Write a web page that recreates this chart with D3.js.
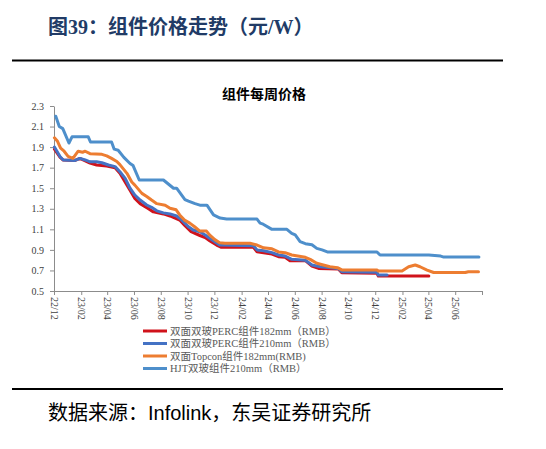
<!DOCTYPE html>
<html>
<head>
<meta charset="utf-8">
<script src="https://cdn.jsdelivr.net/npm/d3@7"></script>
<style>
  body { margin: 0; background: #fff; }
  svg { display: block; }
  .tick text { font-family: "Liberation Serif", "Times New Roman", serif; font-size: 10px; fill: #404040; }
  .axis path, .axis line { stroke: #8c8c8c; }
</style>
</head>
<body>
<svg></svg>
<script>
// series names (legend order)
const seriesNames = [
  "双面双玻PERC组件182mm（RMB）",
  "双面双玻PERC组件210mm（RMB）",
  "双面Topcon组件182mm(RMB)",
  "HJT双玻组件210mm（RMB）"
];
const seriesColors = ["#d0121b", "#4472c4", "#ed7d31", "#4e8fcb"];

// 双面双玻PERC 182mm
const perc182Dates = ["2022-12-02","2022-12-15","2022-12-22","2023-01-18","2023-01-29","2023-02-21","2023-03-08","2023-03-31","2023-04-19","2023-04-30","2023-05-23","2023-06-03","2023-06-15","2023-07-04","2023-07-15","2023-08-07","2023-08-22","2023-09-13","2023-09-24","2023-10-09","2023-10-29","2023-11-10","2023-11-21","2023-12-06","2023-12-17","2024-02-28","2024-03-07","2024-03-22","2024-04-10","2024-04-25","2024-05-10","2024-05-21","2024-06-25","2024-07-10","2024-07-25","2024-09-08","2024-09-16","2024-12-05","2024-12-08","2025-04-02"];
const perc182Values = [1.88,1.80,1.774,1.77,1.79,1.745,1.726,1.716,1.70,1.645,1.48,1.40,1.35,1.30,1.27,1.25,1.23,1.19,1.14,1.077,1.04,1.02,0.986,0.947,0.925,0.925,0.882,0.873,0.86,0.834,0.828,0.795,0.795,0.743,0.72,0.714,0.678,0.672,0.646,0.646];

// 双面双玻PERC 210mm
const perc210Dates = ["2022-12-02","2022-12-15","2022-12-22","2023-01-18","2023-01-29","2023-02-10","2023-02-21","2023-03-08","2023-03-20","2023-04-04","2023-04-19","2023-04-30","2023-05-12","2023-05-23","2023-06-03","2023-06-15","2023-06-30","2023-07-11","2023-07-23","2023-08-07","2023-08-22","2023-09-06","2023-09-18","2023-10-03","2023-10-14","2023-10-29","2023-11-10","2023-11-21","2023-12-02","2023-12-13","2024-02-28","2024-03-07","2024-03-22","2024-04-10","2024-04-25","2024-05-10","2024-05-25","2024-06-25","2024-07-10","2024-07-29","2024-09-08","2024-09-16","2024-12-05","2024-12-08","2024-12-28"];
const perc210Values = [1.90,1.806,1.774,1.77,1.79,1.775,1.757,1.757,1.748,1.726,1.71,1.66,1.596,1.50,1.434,1.385,1.337,1.314,1.28,1.26,1.25,1.23,1.19,1.125,1.093,1.077,1.045,1.01,0.98,0.947,0.94,0.90,0.892,0.873,0.85,0.84,0.808,0.80,0.753,0.736,0.72,0.688,0.682,0.655,0.655];

// 双面Topcon 182mm
const topconDates = ["2022-12-02","2022-12-09","2022-12-16","2022-12-24","2023-01-02","2023-01-13","2023-01-25","2023-02-04","2023-02-10","2023-02-21","2023-03-20","2023-03-31","2023-04-11","2023-04-23","2023-04-30","2023-05-16","2023-05-27","2023-06-03","2023-06-19","2023-06-30","2023-07-11","2023-07-23","2023-08-11","2023-08-22","2023-09-05","2023-09-13","2023-09-24","2023-10-06","2023-10-17","2023-10-29","2023-11-13","2023-11-20","2023-12-02","2023-12-13","2023-12-25","2024-02-20","2024-03-07","2024-03-22","2024-04-10","2024-04-25","2024-05-10","2024-05-25","2024-06-25","2024-07-06","2024-07-21","2024-08-05","2024-08-20","2024-09-06","2024-09-16","2024-12-05","2024-12-08","2025-01-31","2025-02-15","2025-03-02","2025-03-13","2025-03-29","2025-04-13","2025-06-24","2025-07-01","2025-07-24"];
const topconValues = [1.99,1.956,1.89,1.86,1.81,1.79,1.86,1.85,1.86,1.836,1.83,1.815,1.79,1.76,1.73,1.645,1.56,1.53,1.45,1.42,1.385,1.35,1.335,1.305,1.29,1.24,1.19,1.16,1.125,1.083,1.083,1.045,1.0,0.97,0.964,0.964,0.947,0.92,0.91,0.88,0.873,0.85,0.828,0.808,0.77,0.753,0.736,0.727,0.705,0.705,0.695,0.695,0.736,0.753,0.736,0.704,0.68,0.68,0.688,0.688];

// HJT双玻 210mm
const hjtDates = ["2022-12-05","2022-12-13","2022-12-21","2023-01-04","2023-01-11","2023-02-17","2023-02-22","2023-04-11","2023-04-17","2023-04-26","2023-05-09","2023-05-23","2023-05-30","2023-06-13","2023-08-07","2023-08-30","2023-09-06","2023-09-25","2023-10-03","2023-10-18","2023-10-29","2023-11-14","2023-11-29","2023-12-14","2023-12-29","2024-03-07","2024-03-14","2024-03-21","2024-04-10","2024-05-14","2024-05-25","2024-06-02","2024-06-13","2024-06-25","2024-07-10","2024-07-21","2024-08-02","2024-08-14","2024-12-05","2024-12-12","2025-04-02","2025-04-29","2025-05-06","2025-07-25"];
const hjtValues = [2.20,2.10,2.08,1.94,2.00,2.00,1.95,1.95,1.88,1.87,1.80,1.74,1.72,1.58,1.58,1.50,1.50,1.39,1.375,1.35,1.335,1.335,1.24,1.21,1.20,1.20,1.16,1.15,1.10,1.10,1.06,1.045,0.98,0.96,0.95,0.915,0.90,0.88,0.88,0.85,0.85,0.84,0.83,0.83];

const xTickLabels = ["22/12","23/02","23/04","23/06","23/08","23/10","23/12","24/02","24/04","24/06","24/08","24/10","24/12","25/02","25/04","25/06"];
const yTicks = [0.5, 0.7, 0.9, 1.1, 1.3, 1.5, 1.7, 1.9, 2.1, 2.3];

function drawChart() {
    const svgWidth = 546, svgHeight = 449;
    const plot = { left: 54, right: 482, top: 106, bottom: 291 };

    const svg = d3.select("svg")
        .attr("width", svgWidth)
        .attr("height", svgHeight);

    const parse = d3.timeParse("%Y-%m-%d");
    const parseTick = d3.timeParse("%y/%m");

    // figure title
    svg.append("text")
        .attr("x", 48).attr("y", 34)
        .attr("font-family", "'Liberation Serif', 'Noto Sans CJK SC', serif")
        .attr("font-weight", "bold")
        .attr("font-size", "20px")
        .attr("fill", "#213b66")
        .text("图39：组件价格走势（元/W）");

    // rules
    svg.append("line")
        .attr("x1", 12).attr("x2", 503).attr("y1", 60.5).attr("y2", 60.5)
        .attr("stroke", "#000").attr("stroke-width", 2);
    svg.append("line")
        .attr("x1", 12).attr("x2", 503).attr("y1", 389).attr("y2", 389)
        .attr("stroke", "#000").attr("stroke-width", 2);

    // chart title
    svg.append("text")
        .attr("x", 264).attr("y", 99)
        .attr("text-anchor", "middle")
        .attr("font-family", "'Noto Sans CJK SC', sans-serif")
        .attr("font-weight", "bold")
        .attr("font-size", "14px")
        .attr("fill", "#000")
        .text("组件每周价格");

    // scales
    const x = d3.scaleTime()
        .domain([parseTick("22/12"), parseTick("25/08")])
        .range([plot.left, plot.right]);

    const y = d3.scaleLinear()
        .domain([0.5, 2.3])
        .range([plot.bottom, plot.top]);

    // y axis
    svg.append("g")
        .attr("class", "axis")
        .attr("transform", `translate(${plot.left}, 0)`)
        .call(d3.axisLeft(y).tickValues(yTicks).tickSize(4).tickSizeOuter(0).tickPadding(6)
            .tickFormat(d3.format(".1f")));

    // x axis
    const tickDates = xTickLabels.map(parseTick).concat([parseTick("25/08")]);
    const xAxis = svg.append("g")
        .attr("class", "axis")
        .attr("transform", `translate(0, ${plot.bottom})`)
        .call(d3.axisBottom(x).tickValues(tickDates).tickSize(4).tickSizeOuter(0)
            .tickFormat(d => { const s = d3.timeFormat("%y/%m")(d); return xTickLabels.includes(s) ? s : ""; }));

    xAxis.selectAll(".tick text")
        .attr("transform", "rotate(90)")
        .attr("text-anchor", "start")
        .attr("x", 6)
        .attr("y", 0)
        .attr("dy", "0.35em");

    // lines
    const series = [
        { dates: perc182Dates, values: perc182Values },
        { dates: perc210Dates, values: perc210Values },
        { dates: topconDates, values: topconValues },
        { dates: hjtDates, values: hjtValues }
    ];

    const line = d3.line()
        .x(d => x(d.date))
        .y(d => y(d.value));

    series.forEach((s, i) => {
        const points = s.dates.map((dt, j) => ({ date: parse(dt), value: s.values[j] }));
        svg.append("path")
            .datum(points)
            .attr("fill", "none")
            .attr("stroke", seriesColors[i])
            .attr("stroke-width", 3)
            .attr("stroke-linejoin", "round")
            .attr("stroke-linecap", "round")
            .attr("d", line);
    });

    // legend
    const legend = svg.append("g")
        .attr("transform", "translate(143, 331)");

    seriesNames.forEach((name, i) => {
        const row = legend.append("g")
            .attr("transform", `translate(0, ${i * 12.5})`);
        row.append("line")
            .attr("x1", 0).attr("x2", 24)
            .attr("stroke", seriesColors[i])
            .attr("stroke-width", 3);
        row.append("text")
            .attr("x", 27).attr("dy", "0.35em")
            .attr("font-family", "'Liberation Serif', 'Noto Sans CJK SC', serif")
            .attr("font-size", "10.5px")
            .attr("fill", "#595959")
            .text(name);
    });

    // source
    svg.append("text")
        .attr("x", 48).attr("y", 420)
        .attr("font-family", "'Liberation Sans', 'Noto Sans CJK SC', sans-serif")
        .attr("font-size", "20px")
        .attr("fill", "#000")
        .text("数据来源：Infolink，东吴证券研究所");
}

// run
drawChart();
</script>
</body>
</html>
